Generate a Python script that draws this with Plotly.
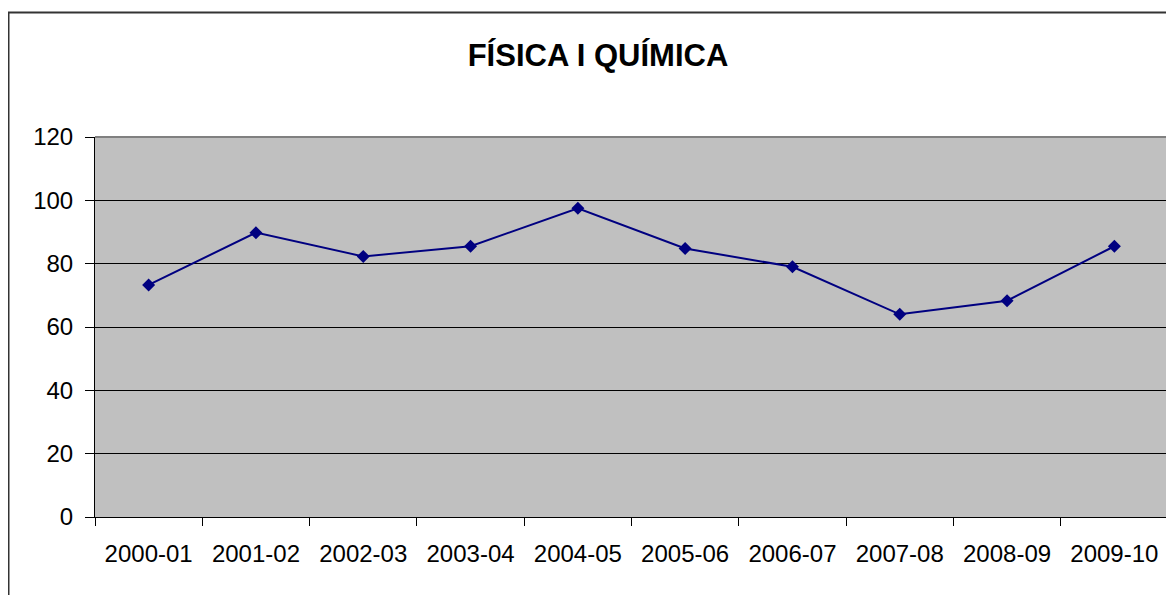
import plotly.graph_objects as go

categories = ["2000-01", "2001-02", "2002-03", "2003-04", "2004-05",
              "2005-06", "2006-07", "2007-08", "2008-09", "2009-10"]
values = [73.3, 89.8, 82.3, 85.5, 97.5, 84.8, 79.0, 64.0, 68.3, 85.5]
y_ticks = [0, 20, 40, 60, 80, 100, 120]
title_text = "FÍSICA I QUÍMICA"

FONT = "Liberation Sans, Arial, sans-serif"

fig = go.Figure()
fig.add_trace(go.Scatter(
    x=categories, y=values, mode="lines+markers",
    line=dict(color="#000080", width=2),
    marker=dict(symbol="diamond", size=10, color="#000080"),
    showlegend=False, hoverinfo="x+y",
))

# page body has an 8px margin, so the figure is drawn 8px smaller
OFF = 8
W, H = 1174 - OFF, 595 - OFF
L, R, T, B = 95 - OFF, 6, 137 - OFF, 78
pw, ph = W - L - R, H - T - B

fig.update_layout(
    width=W, height=H,
    margin=dict(l=L, r=R, t=T, b=B),
    paper_bgcolor="white",
    plot_bgcolor="#C0C0C0",
    font=dict(family=FONT, color="black", size=24),
    title=dict(text=title_text, x=(598 - OFF) / W, xanchor="center",
               y=1 - (55 - OFF) / H, yanchor="middle", xref="container",
               font=dict(family=FONT, size=31, weight="bold", color="black")),
    xaxis=dict(
        type="category", tickson="boundaries", ticks="outside", ticklen=8,
        tickcolor="black", tickwidth=1, showgrid=False, showline=True,
        linecolor="black", linewidth=1, tickfont=dict(size=24),
        range=[-0.5, len(categories) - 0.5], ticklabelstandoff=15,
    ),
    yaxis=dict(
        range=[0, 120], tickvals=y_ticks, ticks="outside", ticklen=9,
        tickcolor="black", tickwidth=1, showgrid=True, gridcolor="black",
        gridwidth=1, zeroline=False, showline=True, linecolor="black",
        linewidth=1, tickfont=dict(size=24), ticklabelstandoff=7,
    ),
    shapes=[
        dict(type="line", xref="paper", yref="paper", x0=0, x1=1, y0=1, y1=1,
             line=dict(color="#808080", width=2), layer="above"),
        dict(type="line", xref="paper", yref="paper", x0=1, x1=1, y0=0, y1=1,
             line=dict(color="#808080", width=2), layer="above"),
        dict(type="rect", xref="paper", yref="paper",
             x0=(0.5 - L) / pw, x1=1.05, y0=-0.3, y1=(H - B - 4.5) / ph,
             line=dict(color="#333333", width=2), fillcolor="rgba(0,0,0,0)",
             layer="below"),
    ],
)

fig.write_html("out.html")
